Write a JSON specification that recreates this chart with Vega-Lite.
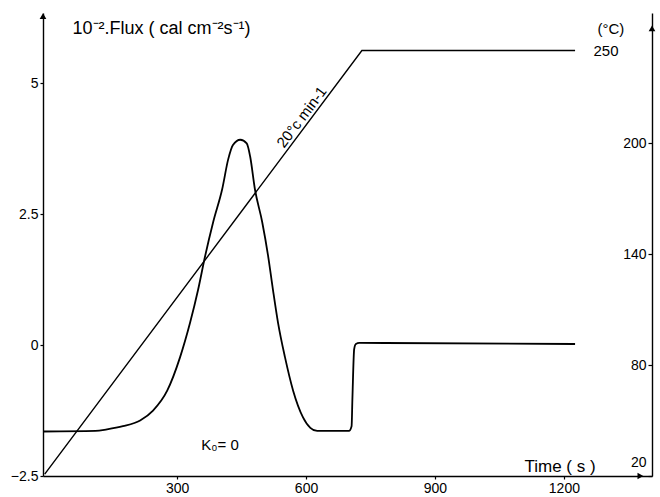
{
  "$schema": "https://vega.github.io/schema/vega-lite/v6.json",
  "width": 609,
  "height": 463,
  "autosize": {"type": "none"},
  "padding": {"left": 43, "top": 13, "right": 8, "bottom": 21},
  "background": "white",
  "config": {
    "view": {"stroke": null},
    "font": "Liberation Sans",
    "axis": {
      "grid": false,
      "domainColor": "black",
      "domainWidth": 1.4,
      "tickColor": "black",
      "tickWidth": 1.2,
      "labelColor": "black",
      "titleColor": "black",
      "labelFont": "Liberation Sans",
      "titleFont": "Liberation Sans",
      "labelFontSize": 14,
      "titleFontWeight": "normal"
    },
    "text": {"font": "Liberation Sans", "color": "black"}
  },
  "datasets": {
    "flux": [
      {"t": -12, "flux": -1.65},
      {"t": 110, "flux": -1.64},
      {"t": 137, "flux": -1.61},
      {"t": 174, "flux": -1.55},
      {"t": 214, "flux": -1.44},
      {"t": 244, "flux": -1.25},
      {"t": 277, "flux": -0.87},
      {"t": 307, "flux": -0.23},
      {"t": 330, "flux": 0.42},
      {"t": 349, "flux": 1.06},
      {"t": 365, "flux": 1.69},
      {"t": 384, "flux": 2.35},
      {"t": 405, "flux": 2.98},
      {"t": 419, "flux": 3.55},
      {"t": 430, "flux": 3.82},
      {"t": 447, "flux": 3.92},
      {"t": 462, "flux": 3.85},
      {"t": 470, "flux": 3.6},
      {"t": 481, "flux": 2.98},
      {"t": 498, "flux": 2.35},
      {"t": 512, "flux": 1.69},
      {"t": 523, "flux": 1.06},
      {"t": 535, "flux": 0.42},
      {"t": 551, "flux": -0.23},
      {"t": 570, "flux": -0.87},
      {"t": 593, "flux": -1.38},
      {"t": 610, "flux": -1.58},
      {"t": 626, "flux": -1.64},
      {"t": 700, "flux": -1.64},
      {"t": 706, "flux": -1.55},
      {"t": 708, "flux": -1.0},
      {"t": 712, "flux": -0.08},
      {"t": 716, "flux": 0.02},
      {"t": 724, "flux": 0.04},
      {"t": 1226, "flux": 0.02}
    ],
    "temp": [
      {"t": -8, "T": 21},
      {"t": 730, "T": 250},
      {"t": 1226, "T": 250}
    ],
    "fluxText": [
      {"t": 400, "flux": -1.9, "label": "K₀= 0"}
    ],
    "tempText": [
      {"t": 590, "T": 214, "label": "20°c min-1", "kind": "rate"},
      {"t": 1298, "T": 250, "label": "250", "kind": "end"}
    ],
    "fluxArrows": [
      {"t": -12, "flux": 6.28, "dir": "up"},
      {"t": 1378, "flux": -2.5, "dir": "right"}
    ],
    "tempArrows": [
      {"t": 1405, "T": 262, "dir": "up"}
    ]
  },
  "resolve": {"scale": {"y": "independent"}, "axis": {"y": "independent"}},
  "layer": [
    {
      "layer": [
        {
          "data": {"name": "flux"},
          "mark": {"type": "line", "color": "black", "strokeWidth": 1.8, "interpolate": "monotone"},
          "encoding": {
            "x": {
              "field": "t", "type": "quantitative",
              "scale": {"domain": [-12, 1405], "nice": false, "zero": false},
              "axis": {
                "values": [300, 600, 900, 1200],
                "format": "d",
                "title": "Time ( s )",
                "titleX": 481, "titleY": -5,
                "titleAlign": "left", "titleBaseline": "alphabetic",
                "titleFontSize": 17,
                "tickSize": 3, "labelPadding": 2
              }
            },
            "y": {
              "field": "flux", "type": "quantitative",
              "scale": {"domain": [-2.5, 6.34], "nice": false, "zero": false},
              "axis": {
                "values": [-2.5, 0, 2.5, 5],
                "format": ".1~f",
                "title": "10⁻².Flux ( cal cm⁻²s⁻¹)",
                "titleAngle": 0, "titleX": 29, "titleY": 15,
                "titleAlign": "left", "titleBaseline": "middle",
                "titleFontSize": 18,
                "tickSize": 3, "labelPadding": 2
              }
            }
          }
        },
        {
          "data": {"name": "fluxText"},
          "mark": {"type": "text", "fontSize": 15, "align": "center", "baseline": "middle"},
          "encoding": {
            "x": {"field": "t", "type": "quantitative"},
            "y": {"field": "flux", "type": "quantitative"},
            "text": {"field": "label"}
          }
        },
        {
          "data": {"name": "fluxArrows"},
          "mark": {"type": "point", "filled": true, "color": "black", "size": 45, "opacity": 1},
          "encoding": {
            "x": {"field": "t", "type": "quantitative"},
            "y": {"field": "flux", "type": "quantitative"},
            "shape": {
              "field": "dir", "type": "nominal",
              "scale": {"domain": ["up", "right"], "range": ["triangle-up", "triangle-right"]},
              "legend": null
            }
          }
        }
      ]
    },
    {
      "layer": [
        {
          "data": {"name": "temp"},
          "mark": {"type": "line", "color": "black", "strokeWidth": 1.4},
          "encoding": {
            "x": {"field": "t", "type": "quantitative"},
            "y": {
              "field": "T", "type": "quantitative",
              "scale": {"domain": [20, 270.3], "nice": false, "zero": false},
              "axis": {
                "orient": "left", "offset": -609,
                "values": [20, 80, 140, 200],
                "title": "(°C)",
                "titleAngle": 0, "titleX": -55, "titleY": 15,
                "titleAlign": "left", "titleBaseline": "middle",
                "titleFontSize": 15,
                "tickSize": 4, "labelPadding": 2,
                "labelOffset": {"condition": {"test": "datum.value < 30", "value": -14}, "value": 0}
              }
            }
          }
        },
        {
          "data": {"name": "tempText"},
          "mark": {"type": "text", "fontSize": 14, "align": "center", "baseline": "middle"},
          "encoding": {
            "x": {"field": "t", "type": "quantitative"},
            "y": {"field": "T", "type": "quantitative"},
            "text": {"field": "label"},
            "angle": {"condition": {"test": "datum.kind == 'rate'", "value": 307}, "value": 0},
            "size": {"condition": {"test": "datum.kind == 'rate'", "value": 15}, "value": 15}
          }
        },
        {
          "data": {"name": "tempArrows"},
          "mark": {"type": "point", "filled": true, "color": "black", "size": 45, "opacity": 1, "shape": "triangle-up"},
          "encoding": {
            "x": {"field": "t", "type": "quantitative"},
            "y": {"field": "T", "type": "quantitative"}
          }
        }
      ]
    }
  ]
}
